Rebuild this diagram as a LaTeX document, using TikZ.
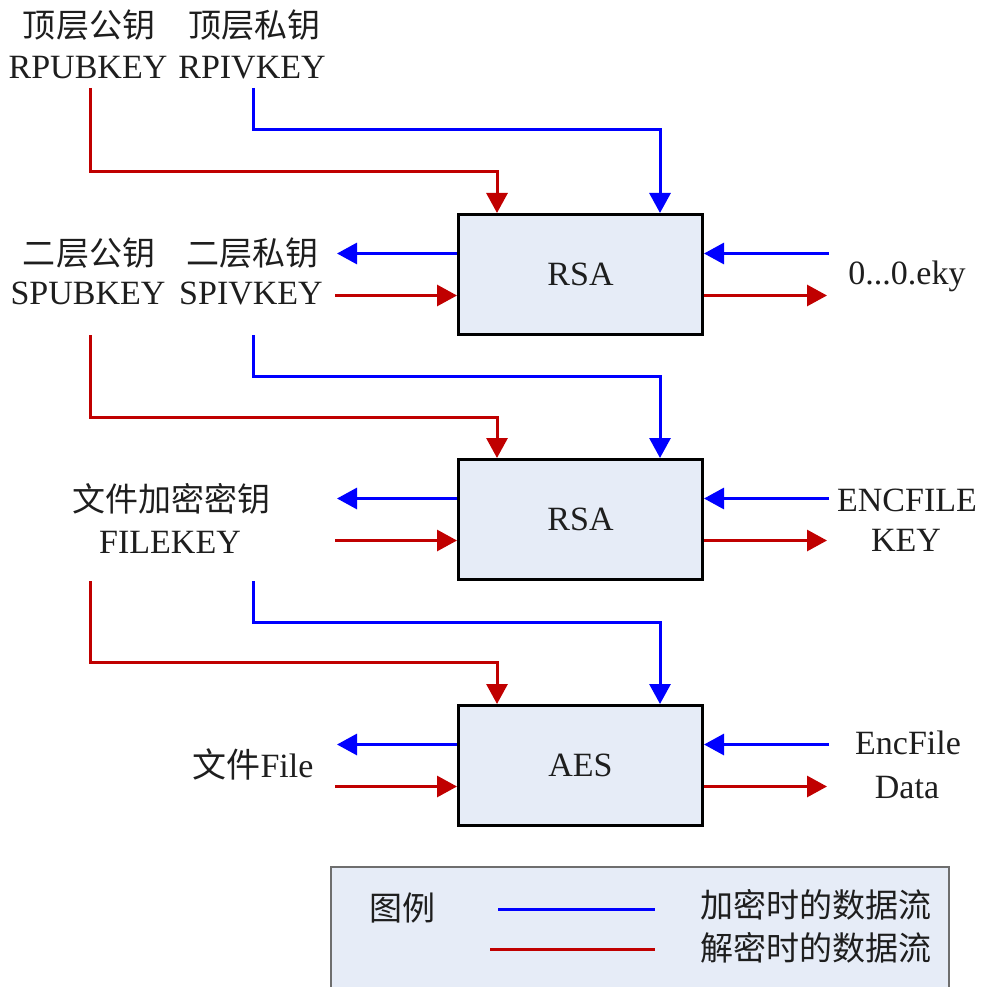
\documentclass[tikz,border=0pt]{standalone}
\usepackage{fontspec}
\setmainfont{Liberation Serif}
\newfontfamily\cjk{Noto Sans CJK SC}
\usetikzlibrary{arrows.meta,calc}
\definecolor{encblue}{RGB}{0,0,255}
\definecolor{decred}{RGB}{192,0,0}
\definecolor{boxfill}{RGB}{230,236,247}
\definecolor{legborder}{RGB}{110,110,110}
\definecolor{txt}{RGB}{30,30,30}
\begin{document}
\begin{tikzpicture}[x=1pt,y=-1pt,
  lbl/.style={inner sep=0pt, anchor=base, font=\fontsize{34}{40}\selectfont, text=txt},
  clbl/.style={inner sep=0pt, anchor=base, font=\fontsize{33}{40}\selectfont\cjk, text=txt},
  proc/.style={draw=black, line width=3pt, fill=boxfill, minimum width=244pt, minimum height=120pt, inner sep=0pt, font=\fontsize{34}{40}\selectfont, text=txt},
  enc/.style={draw=encblue, line width=3pt},
  dec/.style={draw=decred, line width=3pt},
  tip/.style={-{Triangle[length=20pt,width=21pt]}},
]
\useasboundingbox (0,0) rectangle (980,987);

% process boxes
\node[proc] (b1) at (580.5,274.5) {RSA};
\node[proc] (b2) at (580.5,519.5) {RSA};
\node[proc] (b3) at (580.5,765.5) {AES};

% top labels
\node[clbl] (l1a) at (89,38) {顶层公钥};
\node[clbl] (l1b) at (254,38) {顶层私钥};
\node[lbl] (rpub) at (88,79) {RPUBKEY};
\node[lbl] (rpiv) at (252,79) {RPIVKEY};

\node[clbl] (l2a) at (89,265) {二层公钥};
\node[clbl] (l2b) at (252,265) {二层私钥};
\node[lbl] (spub) at (88,304) {SPUBKEY};
\node[lbl] (spiv) at (251,304) {SPIVKEY};

\node[clbl] (l3a) at (171,511) {文件加密密钥};
\node[lbl] (fkey) at (170,553) {FILEKEY};

\node[lbl] (file) at (253,777) {{\cjk 文件}File};

\node[lbl] (eky) at (907,284) {0...0.eky};
\node[lbl] (encf) at (907,511) {ENCFILE};
\node[lbl] (ekey) at (906,551) {KEY};
\node[lbl] (encd) at (908,754) {EncFile};
\node[lbl] (data) at (907,798) {Data};

% start points of vertical feeds
\coordinate (s1r) at (90,88);
\coordinate (s1b) at (253,88);
\coordinate (s2r) at (90,335);
\coordinate (s2b) at (253,335);
\coordinate (s3r) at (90,581);
\coordinate (s3b) at (253,581);

% feeds into box tops
\coordinate (k1r) at ($(b1.north west)+(40,-41)$);
\coordinate (k1b) at ($(b1.north east)+(-44,-83)$);
\draw[dec,tip] (s1r) |- (k1r) -- (k1r |- b1.north);
\draw[enc,tip] (s1b) |- (k1b) -- (k1b |- b1.north);

\coordinate (k2r) at ($(b2.north west)+(40,-41)$);
\coordinate (k2b) at ($(b2.north east)+(-44,-82)$);
\draw[dec,tip] (s2r) |- (k2r) -- (k2r |- b2.north);
\draw[enc,tip] (s2b) |- (k2b) -- (k2b |- b2.north);

\coordinate (k3r) at ($(b3.north west)+(40,-42)$);
\coordinate (k3b) at ($(b3.north east)+(-44,-82)$);
\draw[dec,tip] (s3r) |- (k3r) -- (k3r |- b3.north);
\draw[enc,tip] (s3b) |- (k3b) -- (k3b |- b3.north);

% side arrows
\foreach \b in {b1,b2,b3}{
  \draw[enc,tip] ($(\b.west)+(0,-21)$) -- ($(\b.west)+(-120,-21)$);
  \draw[dec,tip] ($(\b.west)+(-122,21)$) -- ($(\b.west)+(0,21)$);
  \draw[enc,tip] ($(\b.east)+(125,-21)$) -- ($(\b.east)+(0,-21)$);
  \draw[dec,tip] ($(\b.east)+(0,21)$) -- ($(\b.east)+(123,21)$);
}

% legend
\draw[draw=legborder, line width=2pt, fill=boxfill] (331,867) rectangle (949,1010);
\node[clbl] (lg) at (402,920) {图例};
\coordinate (lbs) at (498,909);
\coordinate (lbe) at (655,909);
\coordinate (lrs) at (490,949);
\coordinate (lre) at (655,949);
\draw[enc] (lbs) -- (lbe);
\draw[dec] (lrs) -- (lre);
\node[clbl] (lge) at (816,917) {加密时的数据流};
\node[clbl] (lgd) at (816,960) {解密时的数据流};
\end{tikzpicture}
\end{document}
